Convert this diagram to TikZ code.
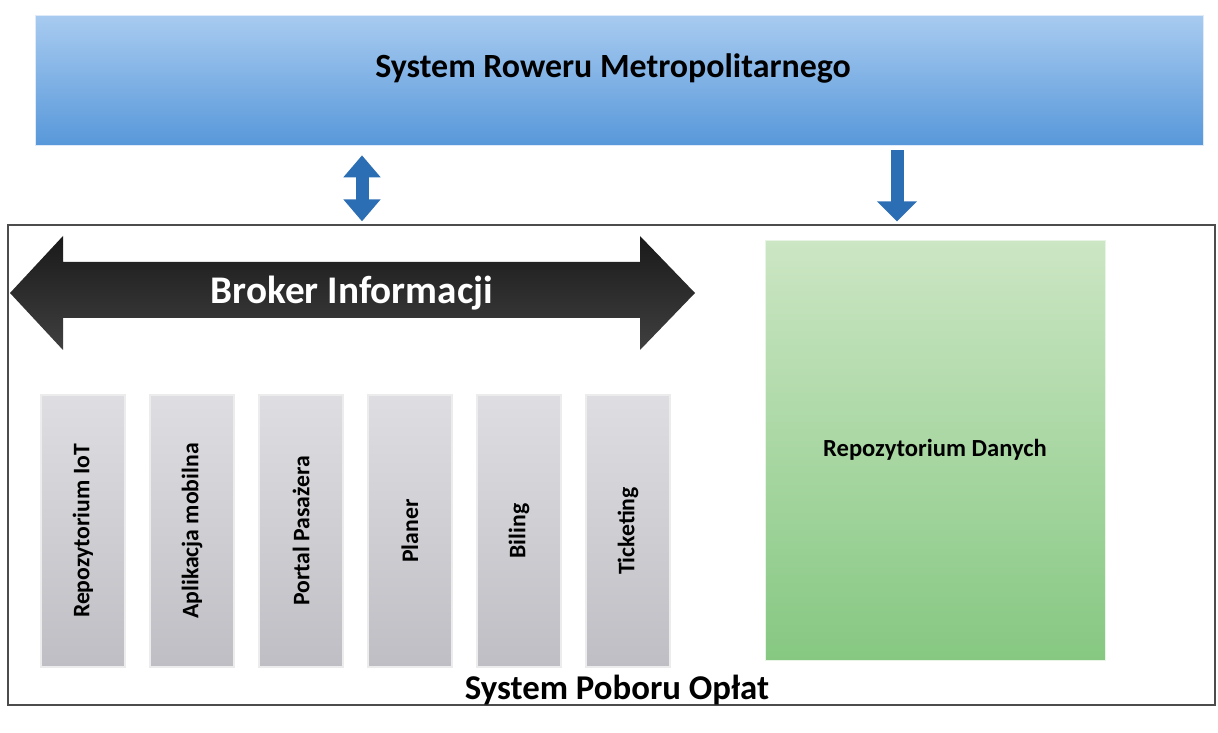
\documentclass[tikz,border=0pt]{standalone}
\usepackage{fontspec}
\setmainfont{Carlito}
\usetikzlibrary{calc,math,arrows.meta}

\definecolor{bartop}{RGB}{168,203,240}
\definecolor{barbottom}{RGB}{88,152,218}
\definecolor{arrowblue}{RGB}{44,110,180}
\definecolor{greentop}{RGB}{204,230,196}
\definecolor{greenbottom}{RGB}{134,200,130}
\definecolor{modtop}{RGB}{222,222,226}
\definecolor{modbottom}{RGB}{190,190,196}

\begin{document}
\begin{tikzpicture}[x=0.02cm,y=-0.02cm,
    bigtext/.style={font=\bfseries\fontsize{19.3}{21}\selectfont},
    modul/.style={minimum width=1.68cm,minimum height=5.44cm,inner sep=0pt,
      top color=modtop,bottom color=modbottom,draw=white!85!gray,line width=1.2pt,
      font=\bfseries\fontsize{13.5}{15}\selectfont},
    flow/.style={draw=arrowblue,line width=0.26cm,
      {Triangle[width=0.72cm,length=0.44cm]}-{Triangle[width=0.72cm,length=0.44cm]}}]
  \tikzmath{
      int \nmodules;
      \nmodules=6;
  }
  \useasboundingbox (0,0) rectangle (1218,733);
  \node[minimum width=23.36cm,minimum height=2.6cm,inner sep=0pt,
    top color=bartop,bottom color=barbottom,draw=white!80!barbottom] (srm) at (619,80) {};
  \node[bigtext] (srmtext) at (613,68) {System Roweru Metropolitarnego};
  \node[draw=gray!60!black,line width=0.8pt,minimum width=24.14cm,minimum height=9.6cm,inner sep=0pt] (spo) at (611.5,465) {};
  \node[bigtext,font=\bfseries\fontsize{19.8}{22}\selectfont] (spotext) at (617,690) {System Poboru Opłat};
  \draw[flow,shorten <=0.2cm,shorten >=0.06cm] (srm.south -| 362,0) -- (spo.north -| 362,0);
  \draw[flow,-{Triangle[width=0.78cm,length=0.4cm]},shorten <=0.1cm,shorten >=0.06cm] (srm.south -| 897,0) -- (spo.north -| 897,0);
  \shade[top color=black!90,bottom color=black!75]
    (10,293) -- (63,236) -- (63,262) -- (640,262) -- (640,236) -- (695,293)
    -- (640,350) -- (640,318) -- (63,318) -- (63,350) -- cycle;
  \node[text=white,font=\bfseries\fontsize{22.3}{24}\selectfont] (broker) at (352,293) {Broker Informacji};
  \foreach[evaluate={83+109*(\i-1)} as \xmod] \i/\txt in {1/Repozytorium IoT,2/Aplikacja mobilna,3/Portal Pasażera,4/Planer,5/Biling,6/Ticketing} {
    \node[modul] (mod\i) at (\xmod,531) {\rotatebox{90}{\txt}};
  }
  \node[minimum width=6.8cm,minimum height=8.4cm,inner sep=0pt,
    top color=greentop,bottom color=greenbottom,draw=white!80!greenbottom,
    font=\bfseries\fontsize{14}{16}\selectfont] (repo) at (935,450) {Repozytorium Danych};
\end{tikzpicture}
\end{document}
